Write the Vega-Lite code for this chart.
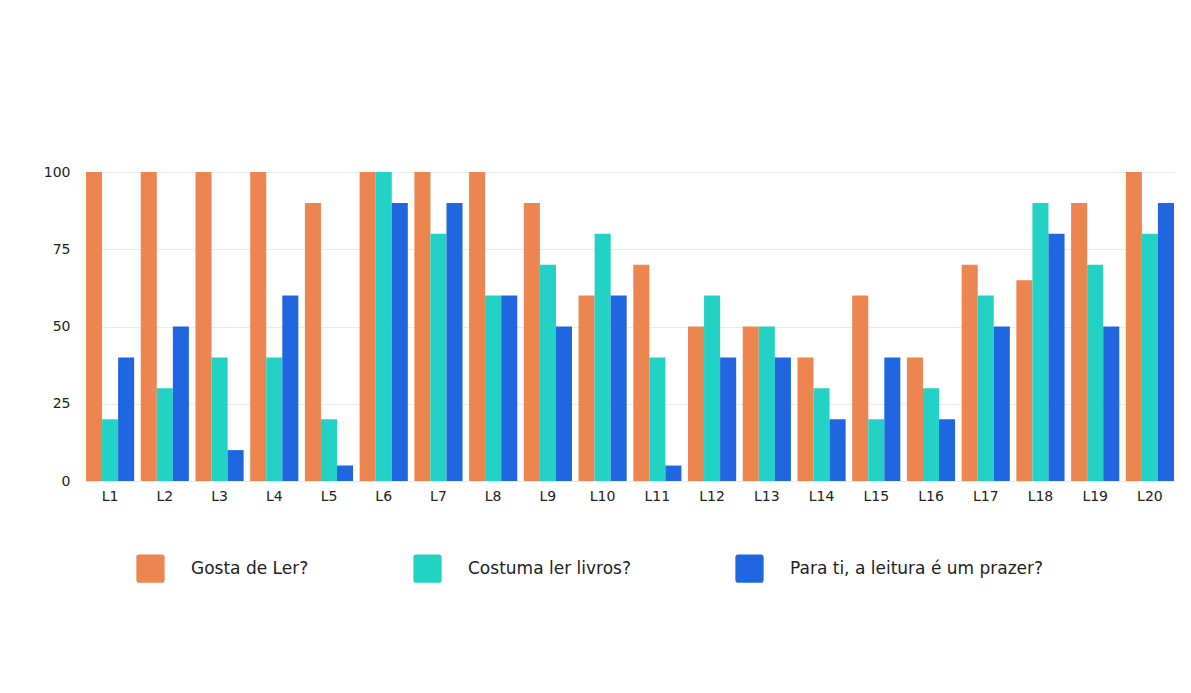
{
  "$schema": "https://vega.github.io/schema/vega-lite/v6.json",
  "autosize": {"type": "none"},
  "width": 1088,
  "height": 309,
  "padding": {"left": 86, "top": 172, "right": 17, "bottom": 212},
  "background": "#ffffff",
  "data": {
    "values": [
      {"livro": "L1", "serie": "Gosta de Ler?", "valor": 100},
      {"livro": "L1", "serie": "Costuma ler livros?", "valor": 20},
      {"livro": "L1", "serie": "Para ti, a leitura é um prazer?", "valor": 40},
      {"livro": "L2", "serie": "Gosta de Ler?", "valor": 100},
      {"livro": "L2", "serie": "Costuma ler livros?", "valor": 30},
      {"livro": "L2", "serie": "Para ti, a leitura é um prazer?", "valor": 50},
      {"livro": "L3", "serie": "Gosta de Ler?", "valor": 100},
      {"livro": "L3", "serie": "Costuma ler livros?", "valor": 40},
      {"livro": "L3", "serie": "Para ti, a leitura é um prazer?", "valor": 10},
      {"livro": "L4", "serie": "Gosta de Ler?", "valor": 100},
      {"livro": "L4", "serie": "Costuma ler livros?", "valor": 40},
      {"livro": "L4", "serie": "Para ti, a leitura é um prazer?", "valor": 60},
      {"livro": "L5", "serie": "Gosta de Ler?", "valor": 90},
      {"livro": "L5", "serie": "Costuma ler livros?", "valor": 20},
      {"livro": "L5", "serie": "Para ti, a leitura é um prazer?", "valor": 5},
      {"livro": "L6", "serie": "Gosta de Ler?", "valor": 100},
      {"livro": "L6", "serie": "Costuma ler livros?", "valor": 100},
      {"livro": "L6", "serie": "Para ti, a leitura é um prazer?", "valor": 90},
      {"livro": "L7", "serie": "Gosta de Ler?", "valor": 100},
      {"livro": "L7", "serie": "Costuma ler livros?", "valor": 80},
      {"livro": "L7", "serie": "Para ti, a leitura é um prazer?", "valor": 90},
      {"livro": "L8", "serie": "Gosta de Ler?", "valor": 100},
      {"livro": "L8", "serie": "Costuma ler livros?", "valor": 60},
      {"livro": "L8", "serie": "Para ti, a leitura é um prazer?", "valor": 60},
      {"livro": "L9", "serie": "Gosta de Ler?", "valor": 90},
      {"livro": "L9", "serie": "Costuma ler livros?", "valor": 70},
      {"livro": "L9", "serie": "Para ti, a leitura é um prazer?", "valor": 50},
      {"livro": "L10", "serie": "Gosta de Ler?", "valor": 60},
      {"livro": "L10", "serie": "Costuma ler livros?", "valor": 80},
      {"livro": "L10", "serie": "Para ti, a leitura é um prazer?", "valor": 60},
      {"livro": "L11", "serie": "Gosta de Ler?", "valor": 70},
      {"livro": "L11", "serie": "Costuma ler livros?", "valor": 40},
      {"livro": "L11", "serie": "Para ti, a leitura é um prazer?", "valor": 5},
      {"livro": "L12", "serie": "Gosta de Ler?", "valor": 50},
      {"livro": "L12", "serie": "Costuma ler livros?", "valor": 60},
      {"livro": "L12", "serie": "Para ti, a leitura é um prazer?", "valor": 40},
      {"livro": "L13", "serie": "Gosta de Ler?", "valor": 50},
      {"livro": "L13", "serie": "Costuma ler livros?", "valor": 50},
      {"livro": "L13", "serie": "Para ti, a leitura é um prazer?", "valor": 40},
      {"livro": "L14", "serie": "Gosta de Ler?", "valor": 40},
      {"livro": "L14", "serie": "Costuma ler livros?", "valor": 30},
      {"livro": "L14", "serie": "Para ti, a leitura é um prazer?", "valor": 20},
      {"livro": "L15", "serie": "Gosta de Ler?", "valor": 60},
      {"livro": "L15", "serie": "Costuma ler livros?", "valor": 20},
      {"livro": "L15", "serie": "Para ti, a leitura é um prazer?", "valor": 40},
      {"livro": "L16", "serie": "Gosta de Ler?", "valor": 40},
      {"livro": "L16", "serie": "Costuma ler livros?", "valor": 30},
      {"livro": "L16", "serie": "Para ti, a leitura é um prazer?", "valor": 20},
      {"livro": "L17", "serie": "Gosta de Ler?", "valor": 70},
      {"livro": "L17", "serie": "Costuma ler livros?", "valor": 60},
      {"livro": "L17", "serie": "Para ti, a leitura é um prazer?", "valor": 50},
      {"livro": "L18", "serie": "Gosta de Ler?", "valor": 65},
      {"livro": "L18", "serie": "Costuma ler livros?", "valor": 90},
      {"livro": "L18", "serie": "Para ti, a leitura é um prazer?", "valor": 80},
      {"livro": "L19", "serie": "Gosta de Ler?", "valor": 90},
      {"livro": "L19", "serie": "Costuma ler livros?", "valor": 70},
      {"livro": "L19", "serie": "Para ti, a leitura é um prazer?", "valor": 50},
      {"livro": "L20", "serie": "Gosta de Ler?", "valor": 100},
      {"livro": "L20", "serie": "Costuma ler livros?", "valor": 80},
      {"livro": "L20", "serie": "Para ti, a leitura é um prazer?", "valor": 90}
    ]
  },
  "mark": {"type": "bar"},
  "encoding": {
    "x": {
      "field": "livro",
      "type": "nominal",
      "sort": null,
      "scale": {"paddingInner": 0.12, "paddingOuter": 0},
      "axis": {
        "title": null,
        "labelAngle": 0,
        "domain": false,
        "ticks": false,
        "labelPadding": 8,
        "labelFont": "DejaVu Sans",
        "labelFontSize": 14,
        "labelColor": "#222222"
      }
    },
    "xOffset": {
      "field": "serie",
      "type": "nominal",
      "sort": ["Gosta de Ler?", "Costuma ler livros?", "Para ti, a leitura é um prazer?"],
      "scale": {"paddingInner": 0, "paddingOuter": 0}
    },
    "y": {
      "field": "valor",
      "type": "quantitative",
      "scale": {"domain": [0, 100], "nice": false},
      "axis": {
        "title": null,
        "values": [0, 25, 50, 75, 100],
        "domain": false,
        "ticks": false,
        "labelPadding": 16,
        "labelFont": "DejaVu Sans",
        "labelFontSize": 14,
        "labelColor": "#222222",
        "gridColor": "#ebebeb",
        "gridWidth": 1
      }
    },
    "color": {
      "field": "serie",
      "type": "nominal",
      "sort": ["Gosta de Ler?", "Costuma ler livros?", "Para ti, a leitura é um prazer?"],
      "scale": {
        "domain": ["Gosta de Ler?", "Costuma ler livros?", "Para ti, a leitura é um prazer?"],
        "range": ["#EC8550", "#22D3C5", "#1F66E0"]
      },
      "legend": {
        "title": null,
        "orient": "none",
        "direction": "horizontal",
        "legendX": 50,
        "legendY": 382,
        "symbolType": "M-0.8,-1 L0.8,-1 Q1,-1 1,-0.8 L1,0.8 Q1,1 0.8,1 L-0.8,1 Q-1,1 -1,0.8 L-1,-0.8 Q-1,-1 -0.8,-1 Z",
        "symbolSize": 800,
        "symbolStrokeWidth": 0,
        "symbolOpacity": 1,
        "labelFont": "DejaVu Sans",
        "labelFontSize": 17,
        "labelLimit": 0,
        "labelColor": "#222222",
        "labelOffset": 26,
        "columnPadding": 104,
        "symbolOffset": 0
      }
    }
  },
  "config": {
    "view": {"stroke": null}
  }
}
